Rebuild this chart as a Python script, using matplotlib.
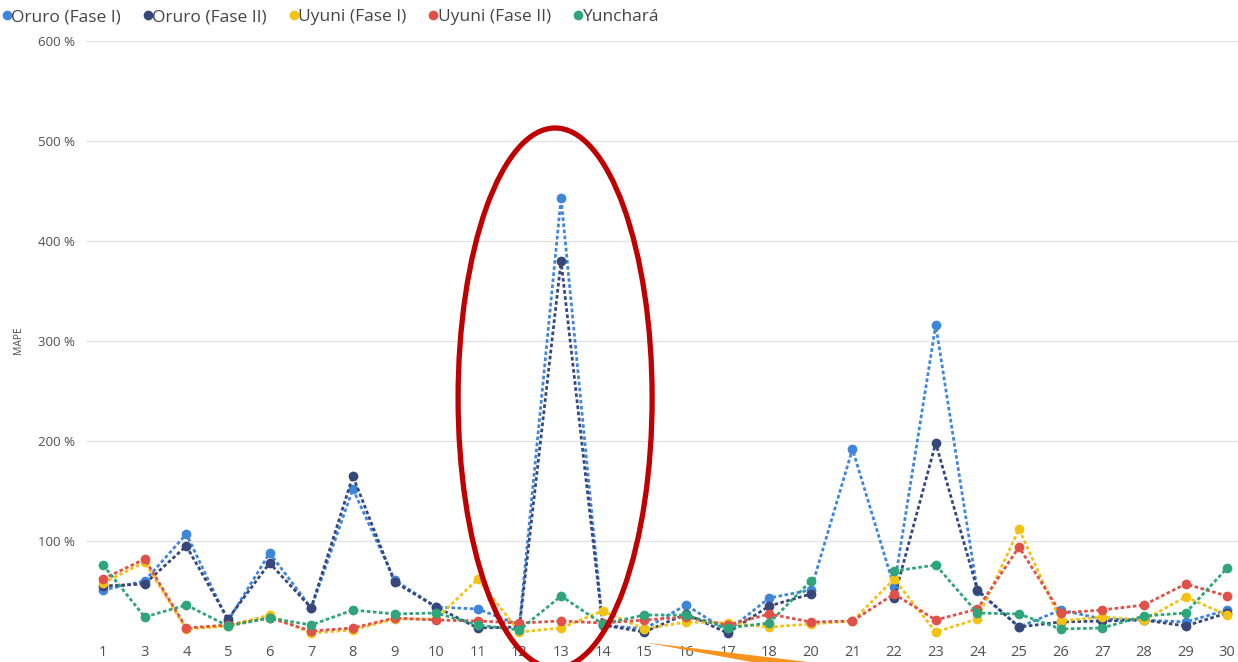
import numpy as np
import matplotlib
matplotlib.use("Agg")
import matplotlib.pyplot as plt
from matplotlib.patches import Ellipse, Polygon
from matplotlib.lines import Line2D

plt.rcParams['font.family'] = ['Open Sans', 'DejaVu Sans']

nan = np.nan

days = ["1", "3", "4", "5", "6", "7", "8", "9", "10", "11", "12", "13", "14", "15",
        "16", "17", "18", "20", "21", "22", "23", "24", "25", "26", "27", "28", "29", "30"]

oruro_1 = [51, 60, 107, 20, 88, 33, 152, 61, 34, 32, 16, 443, 16, 12,
           36, 10, 43, 51, 192, 54, 316, 50, 14, 31, 22, 21, 19, 31]
oruro_2 = [55, 57, 95, 22, 78, 33, 165, 59, 34, 13, 14, 380, 16, 9,
           27, 8, 35, 47, nan, 43, 198, 51, 14, 19, 20, 21, 15, 28]
uyuni_1 = [58, 79, 12, 15, 26, 8, 11, 22, 22, 62, 9, 13, 30, 12,
           19, 18, 14, 17, 20, 62, 9, 22, 112, 20, 24, 21, 44, 26]
uyuni_2 = [62, 82, 13, 16, 23, 10, 13, 23, 21, 20, 18, 20, 18, 21,
           24, 16, 27, 19, 20, 47, 21, 32, 94, 28, 31, 36, 57, 45]
yunchara = [76, 24, 36, 15, 23, 16, 31, 27, 28, 16, 11, 45, 17, 26,
            26, 13, 18, 60, nan, 70, 76, 28, 27, 12, 13, 25, 28, 73]

names = ["Oruro (Fase I)", "Oruro (Fase II)", "Uyuni (Fase I)", "Uyuni (Fase II)", "Yunchará"]
colors = ["#3F86DB", "#37477A", "#F2C314", "#DF5149", "#2EA57A"]
series = [oruro_1, oruro_2, uyuni_1, uyuni_2, yunchara]

W, H = 1238, 662
fig = plt.figure(figsize=(W / 100, H / 100), dpi=100)
# axes placed so 0..600 % spans pixel rows 641..41
ax = fig.add_axes([86 / W, (H - 641) / H, 1 - 86 / W, 600 / H])

x = np.arange(len(days))
for vals, col in zip(series, colors):
    ax.plot(x, vals, color=col, lw=2.0, linestyle=(0, (1.3, 0.9)),
            marker="o", ms=6, mec=col, mfc=col, clip_on=False)

ax.set_xlim(-0.41, 27.26)
ax.set_ylim(0, 600)
ax.set_yticks([100, 200, 300, 400, 500, 600])
ax.set_yticklabels([f"{v} %" for v in range(100, 700, 100)])
ax.set_xticks(x)
ax.set_xticklabels(days)
ax.tick_params(axis="y", length=0, pad=8, labelsize=9.5, labelcolor="#505050")
ax.tick_params(axis="x", length=0, pad=3, labelsize=10.5, labelcolor="#505050")
ax.grid(axis="y", color="#E3E3E3", lw=1)
ax.set_axisbelow(True)
for s in ax.spines.values():
    s.set_visible(False)

fig.text(18 / W, 1 - 340 / H, "MAPE", rotation=90, fontsize=7.5,
         color="#505050", ha="center", va="center")

handles = [Line2D([], [], color=c, marker="o", ls="none", ms=6) for c in colors]
fig.legend(handles, names, loc="upper left", bbox_to_anchor=(-0.014, 1.01), ncol=5,
           frameon=False, fontsize=12.5, handletextpad=-0.25, columnspacing=1.05,
           handlelength=1.0, labelcolor="#444444")

# red ellipse highlighting day 13
ell = Ellipse(((555 - 103) / 41.63, 641 - 398), 194 / 41.63, 540, fill=False,
              ec="#C00000", lw=3.8, clip_on=False, zorder=5)
ax.add_patch(ell)

# orange pointer at the bottom
pts = [(645, 642.5), (850, 667), (850, 680)]
arrow = Polygon([(px / W, 1 - py / H) for px, py in pts], closed=True,
                transform=fig.transFigure, fc="#F7931E", ec="none", zorder=6)
fig.patches.append(arrow)

fig.savefig("out.png", dpi=100)
